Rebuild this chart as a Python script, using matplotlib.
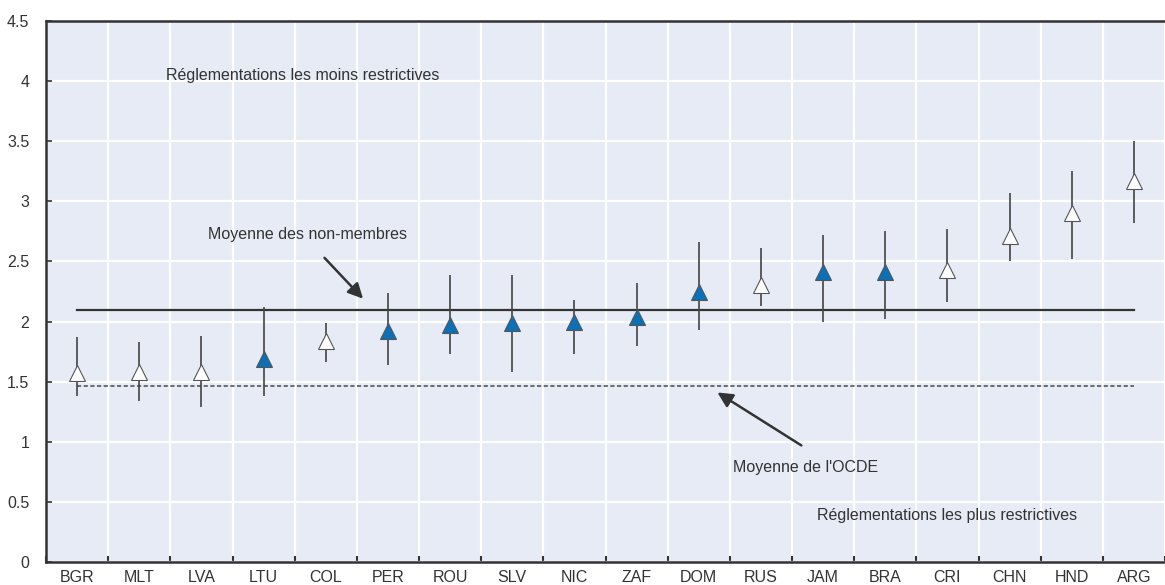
import matplotlib
matplotlib.use("Agg")
import matplotlib.pyplot as plt
import numpy as np

plt.rcParams['font.family'] = ['Liberation Sans Narrow', 'Liberation Sans', 'DejaVu Sans']

# Indice de restrictivité par pays, avec l'intervalle bas / haut
countries = ["BGR", "MLT", "LVA", "LTU", "COL", "PER", "ROU", "SLV", "NIC",
             "ZAF", "DOM", "RUS", "JAM", "BRA", "CRI", "CHN", "HND", "ARG"]
score = [1.57, 1.58, 1.58, 1.69, 1.84, 1.92, 1.97, 1.99, 2.00,
         2.04, 2.25, 2.30, 2.41, 2.41, 2.43, 2.71, 2.90, 3.17]
low = [1.38, 1.34, 1.29, 1.38, 1.66, 1.64, 1.73, 1.58, 1.73,
       1.80, 1.93, 2.13, 2.00, 2.02, 2.16, 2.50, 2.52, 2.82]
high = [1.87, 1.83, 1.88, 2.12, 1.99, 2.24, 2.39, 2.39, 2.18,
        2.32, 2.66, 2.61, 2.72, 2.75, 2.77, 3.07, 3.25, 3.50]
# pays en bleu (triangle plein)
filled = [False, False, False, True, False, True, True, True, True,
          True, True, False, True, True, False, False, False, False]

nonmember_avg = 2.10
oecd_avg = 1.46

blue = "#0a70b8"
text_col = "#333333"

fig = plt.figure(figsize=(11.65, 5.85), dpi=100)
ax = fig.add_axes([46 / 1165, 1 - 562 / 585, (1165 - 46) / 1165, 541 / 585])
ax.set_facecolor("#e6ebf5")

x = np.arange(len(countries))

# la dernière colonne dépasse légèrement du bord droit
ax.set_xlim(-0.5, 17.35)
ax.set_ylim(0, 4.5)

# grille blanche : verticales entre les pays, horizontales tous les 0.5
ax.set_xticks(np.arange(-0.5, 18, 1), minor=True)
ax.set_xticks(x)
ax.set_xticklabels(countries)
ax.set_yticks(np.arange(0, 4.51, 0.5))
ax.set_yticklabels(["0", "0.5", "1", "1.5", "2", "2.5", "3", "3.5", "4", "4.5"])
ax.grid(True, which="minor", axis="x", color="white", linewidth=1.6)
ax.grid(True, which="major", axis="y", color="white", linewidth=1.6)
ax.set_axisbelow(True)

ax.tick_params(axis="x", which="major", length=0, pad=6, labelsize=11.5, labelcolor=text_col)
ax.tick_params(axis="x", which="minor", length=4, direction="in", color="#333333", width=1.5)
ax.tick_params(axis="y", length=4, direction="in", color="#333333", width=1.2,
               pad=12, labelsize=11.5, labelcolor=text_col)

for side in ["left", "bottom", "top"]:
    ax.spines[side].set_color("#333333")
    ax.spines[side].set_linewidth(1.8)
ax.spines["right"].set_visible(False)

# moyennes
ax.plot([0, 17], [nonmember_avg, nonmember_avg], color="#333333", linewidth=1.6, zorder=2)
ax.plot([0, 17], [oecd_avg, oecd_avg], color="#555555", linewidth=1.2,
        linestyle=(0, (2.5, 1.5)), zorder=2)

# intervalles
ax.vlines(x, low, high, color="#444444", linewidth=1.2, zorder=3)

for xi, s, f in zip(x, score, filled):
    ax.plot(xi, s, marker="^", markersize=12,
            markerfacecolor=blue if f else "white",
            markeredgecolor="#555555", markeredgewidth=0.8, zorder=4)

# annotations
ax.text(1.43, 4.05, "Réglementations les moins restrictives", fontsize=11.5,
        color=text_col, va="center", ha="left")
ax.text(11.9, 0.39, "Réglementations les plus restrictives", fontsize=11.5,
        color=text_col, va="center", ha="left")
ax.annotate("", xy=(4.6, 2.19), xytext=(3.98, 2.53),
            arrowprops=dict(arrowstyle="-|>,head_length=0.9,head_width=0.45",
                            color="#333333", linewidth=1.8, shrinkA=0, shrinkB=0))
ax.text(3.7, 2.72, "Moyenne des non-membres", fontsize=11.5, color=text_col,
        va="center", ha="center")
ax.annotate("", xy=(10.3, 1.41), xytext=(11.65, 0.97),
            arrowprops=dict(arrowstyle="-|>,head_length=0.9,head_width=0.45",
                            color="#333333", linewidth=1.8, shrinkA=0, shrinkB=0))
ax.text(10.55, 0.79, "Moyenne de l'OCDE", fontsize=11.5, color=text_col,
        va="center", ha="left")

fig.savefig("out.png", dpi=100)
